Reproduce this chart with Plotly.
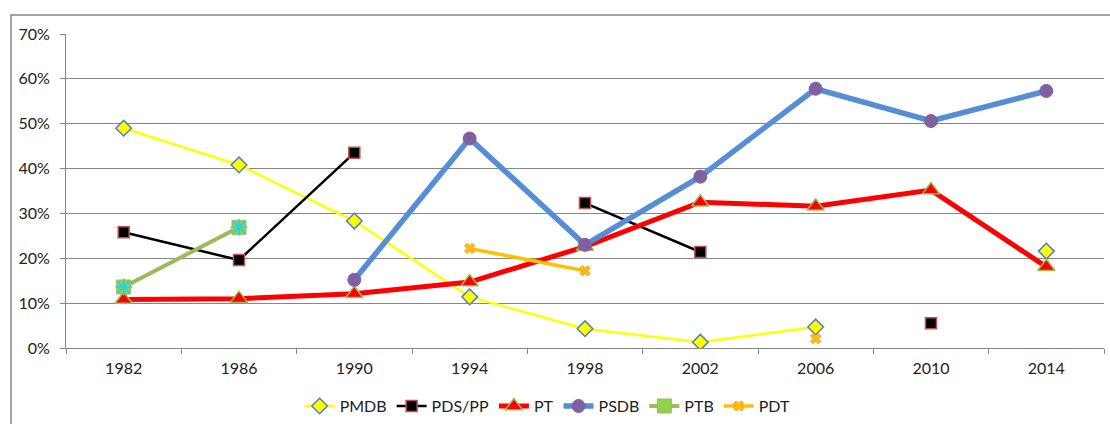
import plotly.graph_objects as go

# Election years (categories) and vote shares (%) per party
years = ["1982", "1986", "1990", "1994", "1998", "2002", "2006", "2010", "2014"]

pmdb = [49.0, 40.8, 28.3, 11.4, 4.3, 1.3, 4.7, None, 21.6]
pds_pp = [25.8, 19.6, 43.5, None, 32.3, 21.4, None, 5.5, None]
pt = [10.8, 11.0, 12.1, 14.7, 22.6, 32.5, 31.6, 35.2, 18.1]
psdb = [None, None, 15.2, 46.7, 23.0, 38.2, 57.8, 50.6, 57.3]
ptb = [13.6, 26.9, None, None, None, None, None, None, None]
pdt = [None, None, None, 22.2, 17.2, None, 2.1, None, None]

FONT = "Lato"

fig = go.Figure()

# PMDB - thin yellow line, yellow diamonds with blue outline
fig.add_trace(go.Scatter(
    x=years, y=pmdb, name="PMDB", mode="lines+markers",
    line=dict(color="#FFFF00", width=2.5),
    marker=dict(symbol="diamond", size=12, color="#FFFF00",
                line=dict(color="#4F81BD", width=1.5))
))

# PDS/PP - black line, black squares with dark red outline
fig.add_trace(go.Scatter(
    x=years, y=pds_pp, name="PDS/PP", mode="lines+markers",
    line=dict(color="#000000", width=2.5),
    marker=dict(symbol="square", size=11, color="#000000",
                line=dict(color="#C0504D", width=1.5))
))

# PT - thick red line, red triangles with green outline
fig.add_trace(go.Scatter(
    x=years, y=pt, name="PT", mode="lines+markers",
    line=dict(color="#FF0000", width=5),
    marker=dict(symbol="triangle-up", size=15, color="#FF0000",
                line=dict(color="#9BBB59", width=1.5))
))

# PSDB - thick blue line, purple circles
fig.add_trace(go.Scatter(
    x=years, y=psdb, name="PSDB", mode="lines+markers",
    line=dict(color="#558ED5", width=5.5),
    marker=dict(symbol="circle", size=13, color="#7F60A0",
                line=dict(color="#7F60A0", width=1))
))

# PTB - green line, green square with blue star on top
fig.add_trace(go.Scatter(
    x=years, y=ptb, name="PTB", mode="lines+markers",
    line=dict(color="#9BBB59", width=4),
    marker=dict(symbol="square", size=14, color="#92D050",
                line=dict(color="#9BBB59", width=1))
))
fig.add_trace(go.Scatter(
    x=years, y=ptb, name="PTB", mode="markers", showlegend=False,
    marker=dict(symbol="asterisk-open", size=14,
                line=dict(color="#4F81BD", width=1.5))
))

# PDT - orange line, small orange x markers
fig.add_trace(go.Scatter(
    x=years, y=pdt, name="PDT", mode="lines+markers",
    line=dict(color="#FFC000", width=3.5),
    marker=dict(symbol="x", size=9, color="#FFC000",
                line=dict(color="#F79646", width=1))
))

fig.update_layout(
    width=1110, height=424,
    paper_bgcolor="white", plot_bgcolor="white",
    margin=dict(l=66, r=6, t=34, b=76, autoexpand=False),
    font=dict(family=FONT, size=16, color="#222222"),
    xaxis=dict(
        type="category", tickson="boundaries",
        showgrid=False, zeroline=False,
        showline=True, linecolor="#868686", linewidth=1,
        ticks="outside", ticklen=5, tickcolor="#868686",
        ticklabelstandoff=6,
        range=[-0.5, 8.5],
    ),
    yaxis=dict(
        range=[0, 70], dtick=10, ticksuffix="%",
        showgrid=True, gridcolor="#868686", gridwidth=1,
        zeroline=False,
        showline=True, linecolor="#868686", linewidth=1,
        ticks="outside", ticklen=5, tickcolor="#868686",
        ticklabelstandoff=7,
    ),
    legend=dict(
        orientation="h", x=0.464, xanchor="center",
        y=-0.185, yanchor="middle",
        font=dict(family=FONT, size=16),
        itemwidth=30, tracegroupgap=0,
    ),
    shapes=[dict(
        type="rect", xref="paper", yref="paper",
        x0=(11 - 66) / 1038, x1=(1130 - 66) / 1038,
        y0=-0.5, y1=(348 - 15) / 314,
        line=dict(color="#868686", width=1.5),
        fillcolor="rgba(0,0,0,0)", layer="below",
    )],
)

fig.write_html("out.html", config={"displayModeBar": False},
               post_script="document.body.style.margin='0px';")
